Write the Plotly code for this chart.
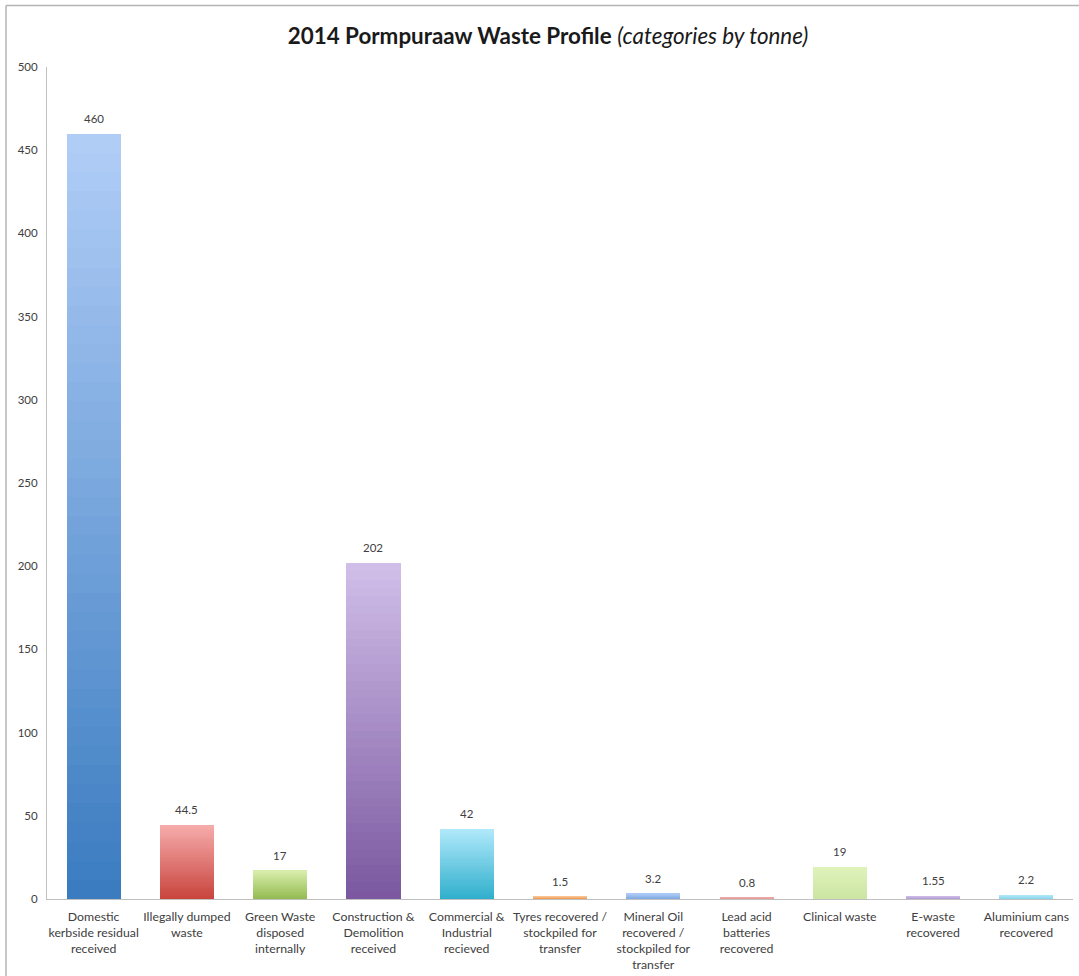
import plotly.graph_objects as go

categories = [
    "Domestic<br>kerbside residual<br>received",
    "Illegally dumped<br>waste",
    "Green Waste<br>disposed<br>internally",
    "Construction &<br>Demolition<br>received",
    "Commercial &<br>Industrial<br>recieved",
    "Tyres recovered /<br>stockpiled for<br>transfer",
    "Mineral Oil<br>recovered /<br>stockpiled for<br>transfer",
    "Lead acid<br>batteries<br>recovered",
    "Clinical waste",
    "E-waste<br>recovered",
    "Aluminium cans<br>recovered",
]
tonnes = [460, 44.5, 17, 202, 42, 1.5, 3.2, 0.8, 19, 1.55, 2.2]
value_labels = ["460", "44.5", "17", "202", "42", "1.5", "3.2", "0.8", "19", "1.55", "2.2"]

top_colors = ["#b1cef7", "#f6acab", "#d8eeac", "#d1bfe9", "#b0e9fb", "#f9c28c",
              "#abc9f4", "#efa9a7", "#def2ba", "#cbb8e6", "#abe6f6"]
bottom_colors = ["#3a7bc0", "#c8433c", "#92ba4e", "#7a579f", "#2eaecb", "#e8873b",
                 "#7ba4e0", "#d87771", "#cbe5a2", "#a98dcd", "#80d1e9"]

y_ticks = [0, 50, 100, 150, 200, 250, 300, 350, 400, 450, 500]

FONT = "Lato, 'Open Sans', sans-serif"
N_SEG = 40


def hex2rgb(h):
    h = h.lstrip("#")
    return tuple(int(h[i:i + 2], 16) for i in (0, 2, 4))


def mix(c0, c1, t):
    a, b = hex2rgb(c0), hex2rgb(c1)
    return "rgb(%d,%d,%d)" % tuple(round(a[i] + (b[i] - a[i]) * t) for i in range(3))


fig = go.Figure()
for k in range(N_SEG):
    t = (k + 0.5) / N_SEG
    fig.add_trace(go.Bar(
        x=categories,
        y=[v / N_SEG for v in tonnes],
        marker=dict(color=[mix(b, tp, t) for b, tp in zip(bottom_colors, top_colors)],
                    line=dict(width=0)),
        showlegend=False,
        hoverinfo="skip",
    ))

annotations = [
    dict(x=c, y=v, text=lbl, xref="x", yref="y", showarrow=False,
         yanchor="bottom", yshift=7,
         font=dict(family=FONT, size=11.5, color="#404040"))
    for c, v, lbl in zip(categories, tonnes, value_labels)
]

fig.update_layout(
    width=1079,
    height=976,
    barmode="stack",
    bargap=0.42,
    plot_bgcolor="white",
    paper_bgcolor="white",
    margin=dict(l=47, r=6, t=67, b=77),
    font=dict(family=FONT, size=12, color="#404040"),
    title=dict(
        text="<b>2014 Pormpuraaw Waste Profile</b> <i>(categories by tonne)</i>",
        x=548 / 1079, xanchor="center", xref="container",
        y=1 - 36 / 976, yanchor="middle", yref="container",
        font=dict(family=FONT, size=22.4, color="#1a1a1a"),
    ),
    xaxis=dict(
        range=[-0.5, 10.5], automargin=False,
        showline=True, linecolor="#c0c0c0", linewidth=1,
        showgrid=False, zeroline=False, ticks="",
        tickfont=dict(family=FONT, size=12.3, color="#404040"),
        ticklabelstandoff=6,
    ),
    yaxis=dict(
        range=[0, 500], tickvals=y_ticks, automargin=False,
        showline=True, linecolor="#c0c0c0", linewidth=1,
        showgrid=False, zeroline=False, ticks="",
        tickfont=dict(family=FONT, size=11.5, color="#404040"),
        ticklabelstandoff=6,
    ),
    annotations=annotations,
    shapes=[
        dict(type="line", xref="paper", yref="paper",
             x0=(6 - 47) / 1026, x1=1.2, y0=1 + (67 - 5.5) / 832, y1=1 + (67 - 5.5) / 832,
             line=dict(color="#b4b4b4", width=1.5)),
        dict(type="line", xref="paper", yref="paper",
             x0=(6 - 47) / 1026, x1=(6 - 47) / 1026, y0=-0.3, y1=1 + (67 - 5.5) / 832,
             line=dict(color="#b4b4b4", width=1.5)),
    ],
)

fig.write_html("out.html")
